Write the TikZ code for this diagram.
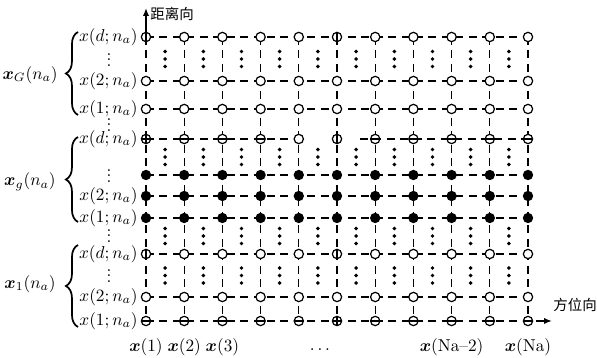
\documentclass[tikz,border=0pt]{standalone}
\usepackage{amsmath,bm}
\usepackage{fontspec}
\newfontfamily\cjkfont{Noto Sans CJK SC}
\usetikzlibrary{arrows.meta,decorations.pathreplacing}
\newcommand{\cdts}{\vbox{\baselineskip3pt\lineskiplimit0pt\hbox{.}\hbox{.}\hbox{.}}}

\begin{document}
\begin{tikzpicture}[
  x=0.58pt,y=-0.58pt,
  every node/.style={inner sep=0pt},
  gridline/.style={line width=0.8pt,dash pattern=on 4.6pt off 3.2pt},
  hole/.style={draw,line width=0.7pt,fill=white},
  full/.style={fill=black},
  bar/.style={line width=0.6pt},
  arr/.style={-{Latex[length=4.5pt,width=3.5pt]},line width=0.8pt},
  brc/.style={decorate,decoration={brace,amplitude=7pt},line width=1pt},
  lbl/.style={anchor=east},
  grp/.style={anchor=east},
  cjk/.style={font=\cjkfont\fontsize{8.4}{10}\selectfont},
]
  \useasboundingbox (0,0) rectangle (597,358);

  % axes ends
  \coordinate (o) at (146,321);
  \coordinate (top) at (146,37);
  \coordinate (rtip) at (146,8);
  \coordinate (atip) at (552,321);

  % vertical grid lines
  \foreach \k in {0,...,10}
    \draw[gridline] (146+38.2*\k,37) -- (146+38.2*\k,321);
  \draw[arr] (top) -- (rtip);

  % horizontal grid lines (row d of x_g is broken)
  \foreach \y in {37,81,109,175,196,218,254,297}
    \draw[gridline] (146,\y) -- (528,\y);
  \draw[gridline] (146,139) -- (298,139);
  \draw[gridline] (360,139) -- (528,139);
  \draw[gridline,arr] (o) -- (atip);

  % samples: open and filled
  \foreach \y in {37,81,109,139,254,297,321}
    \foreach \k in {0,...,10}
      \path[hole] (146+38.2*\k,\y) circle[radius=2.7pt];
  \foreach \y in {175,196,218}
    \foreach \k in {0,...,10}
      \path[full] (146+38.2*\k,\y) circle[radius=3pt];

  % lines seen through some circles
  \foreach \cx/\y in {146/37,146/139,146/254,337/37,337/139,337/254,337/321}
    \draw[bar] (\cx,\y-4.6) -- (\cx,\y+4.6);
  \foreach \k in {0,1,2,3,6,7,8,9,10}
    \draw[bar] (146+38.2*\k-4.6,139) -- (146+38.2*\k+4.6,139);
  \foreach \k in {0,...,10}
    \draw[bar] (146+38.2*\k-4.6,321) -- (146+38.2*\k+4.6,321);

  % vertical dots inside the cells
  \foreach \yc in {59,157,236,275.5}
    \foreach \k in {0,...,9}
      \foreach \d in {-7.5,0,7.5}
        \fill (165.1+38.2*\k,\yc+\d) circle[radius=1.15pt];

  % row labels
  \node[lbl] (Gd) at (138,37) {$x(d{;}\,n_a)$};
  \node (Gv) at (109,60) {\cdts};
  \node[lbl] (G2) at (138,81) {$x(2{;}\,n_a)$};
  \node[lbl] (G1) at (138,109) {$x(1{;}\,n_a)$};
  \node (Gg) at (109,125) {\cdts};
  \node[lbl] (gd) at (138,139) {$x(d{;}\,n_a)$};
  \node (gv) at (109,176) {\cdts};
  \node[lbl] (g2) at (138,196) {$x(2{;}\,n_a)$};
  \node[lbl] (g1) at (138,218) {$x(1{;}\,n_a)$};
  \node (g1v) at (109,236) {\cdts};
  \node[lbl] (od) at (138,254) {$x(d{;}\,n_a)$};
  \node (ov) at (109,276) {\cdts};
  \node[lbl] (o2) at (138,297) {$x(2{;}\,n_a)$};
  \node[lbl] (o1) at (138,321) {$x(1{;}\,n_a)$};

  % braces and group labels
  \draw[brc] (78,115) -- (78,32);
  \draw[brc] (78,222) -- (78,137);
  \draw[brc] (78,327) -- (78,245);
  \node[grp] (xG) at (58,75) {$\bm{x}_G(n_a)$};
  \node[grp] (xg) at (56,182) {$\bm{x}_g(n_a)$};
  \node[grp] (xo) at (56,284) {$\bm{x}_1(n_a)$};

  % column labels
  \node (c1) at (146,347) {$\bm{x}(1)$};
  \node (c2) at (184.2,347) {$\bm{x}(2)$};
  \node (c3) at (222.4,347) {$\bm{x}(3)$};
  \node (cdots) at (320,350) {$\ldots$};
  \node (cNa2) at (451.6,347) {$\bm{x}(\mathrm{Na}\text{--}2)$};
  \node (cNa) at (528,347) {$\bm{x}(\mathrm{Na})$};

  % axis names
  \node[cjk,anchor=west] (range) at (150,14) {距离向};
  \node[cjk,anchor=west] (azimuth) at (553,305) {方位向};
\end{tikzpicture}
\end{document}
